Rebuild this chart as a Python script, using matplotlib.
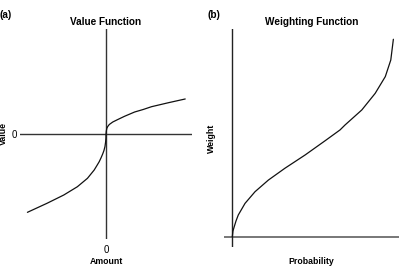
import matplotlib
matplotlib.use("Agg")
import matplotlib.pyplot as plt

# ---- data ----
# Panel (a): value function (amount, value), arbitrary units
gain_amount = [0.0, 0.004, 0.010, 0.022, 0.042, 0.086, 0.150, 0.235, 0.363, 0.471, 0.577, 0.791, 1.004]
gain_value = [0.0, 0.038, 0.071, 0.096, 0.122, 0.154, 0.186, 0.227, 0.282, 0.314, 0.350, 0.401, 0.449]
loss_amount = [-0.001, -0.005, -0.013, -0.026, -0.042, -0.064, -0.086, -0.115, -0.150,
               -0.235, -0.363, -0.535, -0.747, -0.996]
loss_value = [-0.051, -0.103, -0.160, -0.212, -0.256, -0.308, -0.355, -0.404, -0.462,
              -0.568, -0.676, -0.782, -0.888, -1.004]

# Panel (b): probability weighting function
probability = [0.0, 0.004, 0.012, 0.023, 0.037, 0.079, 0.141, 0.224, 0.327, 0.452, 0.576,
               0.669, 0.700, 0.804, 0.887, 0.950, 0.984, 1.0]
weight = [0.0, 0.029, 0.051, 0.080, 0.110, 0.169, 0.228, 0.287, 0.347, 0.414, 0.486,
          0.541, 0.566, 0.642, 0.726, 0.811, 0.895, 1.0]

x_tick_labels_a = ["0"]
y_tick_labels_a = ["0"]

plt.rcParams['font.family'] = ['Liberation Sans', 'DejaVu Sans']

W, H = 399, 268
fig = plt.figure(figsize=(W / 100, H / 100), dpi=100)
fig.patch.set_facecolor('white')

def px_axes(left, top, right, bottom):
    return fig.add_axes([left / W, 1 - bottom / H, (right - left) / W, (bottom - top) / H])

# ---------- Panel (a) ----------
axa = px_axes(20, 29, 192, 239)
axa.set_xlim(-1.09, 1.09)
axa.set_ylim(-1.346, 1.346)
for s in axa.spines.values():
    s.set_visible(False)
axa.axhline(0, color='#333333', lw=1.0)
axa.axvline(0, color='#333333', lw=1.0)
amount = loss_amount[::-1] + gain_amount
value = loss_value[::-1] + gain_value
axa.plot(amount, value, color='#111111', lw=0.9, solid_capstyle='round',
         solid_joinstyle='round')
axa.set_xticks([0])
axa.set_xticklabels(x_tick_labels_a, fontsize=7)
axa.set_yticks([0])
axa.set_yticklabels(y_tick_labels_a, fontsize=7)
axa.tick_params(length=0, pad=4)
axa.tick_params(axis='y', pad=2.5)
axa.set_xlabel("Amount", fontsize=6.3, fontweight='bold', labelpad=2)
axa.set_ylabel("Value", fontsize=6.3, fontweight='bold')
axa.yaxis.set_label_coords(-12 / 172, 0.5)
axa.set_title("Value Function", fontsize=7.2, fontweight='bold', pad=3)
fig.text(0 / W, 1 - 15 / H, "(a)", fontsize=7.2, fontweight='bold', va='center', ha='left')

# ---------- Panel (b) ----------
axb = px_axes(224, 29, 399, 247)
axb.set_xlim(-0.0516, 1.035)
axb.set_ylim(-0.052, 1.052)
for s in axb.spines.values():
    s.set_visible(False)
axb.axhline(0, color='#777777', lw=1.4)
axb.axvline(0, color='#222222', lw=1.0)
axb.plot(probability, weight, color='#111111', lw=0.9, solid_capstyle='round',
         solid_joinstyle='round')
axb.set_xticks([])
axb.set_yticks([])
axb.set_xlabel("Probability", fontsize=6.3, fontweight='bold')
axb.set_ylabel("Weight", fontsize=6.3, fontweight='bold')
axb.yaxis.set_label_coords(-8 / 175, 0.5)
axb.xaxis.set_label_coords(0.5, -10 / 218)
axb.set_title("Weighting Function", fontsize=7.2, fontweight='bold', pad=3)
fig.text(207 / W, 1 - 15 / H, "(b)", fontsize=7.2, fontweight='bold', va='center', ha='left')

fig.savefig("out.png", dpi=100)
